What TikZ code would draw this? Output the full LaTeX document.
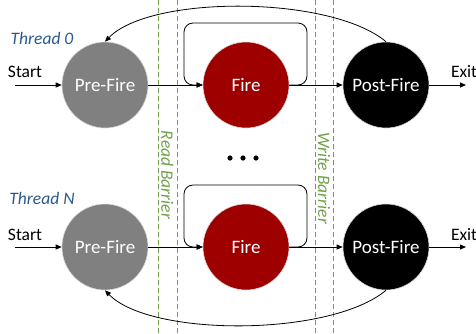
\documentclass[tikz,border=0pt]{standalone}
\usepackage{fontspec}
\setmainfont{Carlito}
\usetikzlibrary{arrows.meta}
\definecolor{barriergreen}{HTML}{70A04A}
\definecolor{threadblue}{HTML}{2A5B8C}
\definecolor{firered}{HTML}{9E0000}
\definecolor{pregray}{HTML}{808080}
\tikzset{
  stage/.style={circle, minimum size=86pt, inner sep=0pt, text=white, font=\fontsize{19}{22}\selectfont, draw=white!85!black, line width=0.6pt},
  conn/.style={draw=black, line width=0.8pt, -{Triangle[length=6pt,width=5pt]}},
  barrier/.style={draw=barriergreen, line width=0.8pt, dash pattern=on 5pt off 3pt},
  barriertext/.style={text=barriergreen, font=\itshape\fontsize{17.5}{20}\selectfont, rotate=-90},
  threadlabel/.style={text=threadblue, font=\itshape\fontsize{17.5}{20}\selectfont},
  plainlabel/.style={text=black, font=\fontsize{17.5}{20}\selectfont},
}
\begin{document}
\begin{tikzpicture}[x=1pt,y=-1pt]
\useasboundingbox (0,0) rectangle (476,333);
% barriers
\draw[barrier] (158,0) -- (158,333);
\draw[barrier] (177,0) -- (177,333);
\draw[barrier] (315,0) -- (315,333);
\draw[barrier] (333,0) -- (333,333);
\node[barriertext] (rb) at (167.5,175) {Read Barrier};
\node[barriertext] (wb) at (324,178) {Write Barrier};
% top row
\node[stage, fill=pregray] (pre0) at (105,85) {Pre-Fire};
\node[stage, fill=firered] (fire0) at (246,85) {Fire};
\node[stage, fill=black] (post0) at (386,85) {Post-Fire};
\node[threadlabel] (t0) at (42,38) {Thread 0};
\node[plainlabel] (s0) at (25,72) {Start};
\node[plainlabel] (e0) at (464,72) {Exit};
\coordinate (sa0) at (15,85);
\coordinate (ea0) at (466,85);
\draw[conn] (sa0) -- (pre0.west);
\draw[conn] (pre0.east) -- (fire0.west);
\draw[conn] (fire0.east) -- (post0.west);
\draw[conn] (post0.east) -- (ea0);
\draw[conn, rounded corners=9pt] (fire0.east) -- (307,85) -- (307,23) -- (184,23) -- (184,85) -- (fire0.west);
\draw[conn] (post0.north) .. controls (330,-5) and (150,-5) .. (pre0.north);
% dots
\fill (230,158) circle (2.6);
\fill (243,158) circle (2.6);
\fill (256,158) circle (2.6);
% bottom row
\node[stage, fill=pregray] (preN) at (105,247) {Pre-Fire};
\node[stage, fill=firered] (fireN) at (246,247) {Fire};
\node[stage, fill=black] (postN) at (386,247) {Post-Fire};
\node[threadlabel] (tN) at (42,198) {Thread N};
\node[plainlabel] (sN) at (25,235) {Start};
\node[plainlabel] (eN) at (464,235) {Exit};
\coordinate (saN) at (15,247);
\coordinate (eaN) at (466,247);
\draw[conn] (saN) -- (preN.west);
\draw[conn] (preN.east) -- (fireN.west);
\draw[conn] (fireN.east) -- (postN.west);
\draw[conn] (postN.east) -- (eaN);
\draw[conn, rounded corners=9pt] (fireN.east) -- (307,247) -- (307,185) -- (184,185) -- (184,247) -- (fireN.west);
\draw[conn] (postN.south) .. controls (330,337) and (150,337) .. (preN.south);
\end{tikzpicture}
\end{document}
